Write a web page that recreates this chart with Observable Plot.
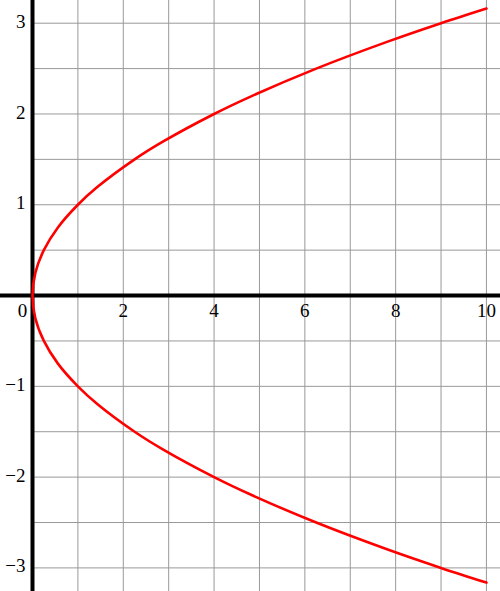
<!DOCTYPE html>
<html>
<head>
<meta charset="utf-8">
<script src="https://cdn.jsdelivr.net/npm/d3@7"></script>
<script src="https://cdn.jsdelivr.net/npm/@observablehq/plot@0.6"></script>
<style>
html,body{margin:0;padding:0;background:#fff;}
</style>
</head>
<body>
<div id="chart"></div>
<script>
// Points (x = horizontal, y = vertical)
const curveX = [10, 9, 7.84, 6.25, 4.84, 4, 2.89, 2.25, 1.44, 1, 0.56, 0.25, 0.0625, 0, 0.0625, 0.25, 0.56, 1, 1.44, 2.25, 2.89, 4, 4.84, 6.25, 7.84, 9, 10];
const curveY = [-3.162, -3, -2.8, -2.5, -2.2, -2, -1.7, -1.5, -1.2, -1, -0.75, -0.5, -0.25, 0, 0.25, 0.5, 0.75, 1, 1.2, 1.5, 1.7, 2, 2.2, 2.5, 2.8, 3, 3.162];

const xTickLabels = [2, 4, 6, 8, 10];
const originLabel = [0];
const yTickLabels = [-3, -2, -1, 1, 2, 3];
const xGrid = [1, 2, 3, 4, 5, 6, 7, 8, 9, 10];
const yGrid = [-3, -2.5, -2, -1.5, -1, -0.5, 0.5, 1, 1.5, 2, 2.5, 3];

const curve = curveX.map((x, i) => ({x, y: curveY[i]}));
const xMin = -0.705, xMax = 10.31, yMin = -3.26, yMax = 3.25;
const font = "Liberation Serif";

const chart = Plot.plot({
  width: 500,
  height: 591,
  margin: 0,
  x: {domain: [xMin, xMax], axis: null},
  y: {domain: [yMin, yMax], axis: null},
  style: {fontFamily: font, background: "white"},
  marks: [
    Plot.ruleX(xGrid, {x: d => d, y1: yMin, y2: yMax, stroke: "#999", strokeWidth: 1}),
    Plot.ruleY(yGrid, {y: d => d, x1: 0, x2: xMax, stroke: "#999", strokeWidth: 1}),
    Plot.ruleY([0], {x1: xMin, x2: xMax, stroke: "black", strokeWidth: 4}),
    Plot.ruleX([0], {y1: yMin, y2: yMax, stroke: "black", strokeWidth: 4}),
    Plot.line(curve, {x: "x", y: "y", stroke: "red", strokeWidth: 2.6, curve: "catmull-rom"}),
    Plot.text(xTickLabels, {x: d => d, y: 0, text: d => String(d), dy: 15, fontSize: 19, fontFamily: font, fill: "black", textAnchor: "middle"}),
    Plot.text(originLabel, {x: d => d, y: 0, text: d => String(d), dy: 15, dx: -10, fontSize: 19, fontFamily: font, fill: "black", textAnchor: "middle"}),
    Plot.text(yTickLabels, {x: 0, y: d => d, text: d => d < 0 ? "\u2212" + Math.abs(d) : String(d), dx: -7, dy: -1.5, fontSize: 19, fontFamily: font, fill: "black", textAnchor: "end"})
  ]
});
document.getElementById("chart").appendChild(chart);
</script>
</body>
</html>
